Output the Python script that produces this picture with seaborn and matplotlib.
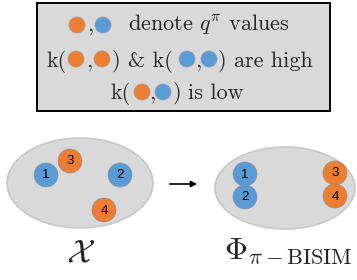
import numpy as np
import pandas as pd
import seaborn as sns
import matplotlib.pyplot as plt
from matplotlib.patches import Ellipse, Rectangle

sns.set_style("white")
plt.rcParams["mathtext.fontset"] = "cm"

# node data: label, kind (q-value group), position in left and right panel
node_labels = ["1", "2", "3", "4"]
node_kind = ["blue", "blue", "orange", "orange"]
left_x = [46, 120, 70, 104]
left_y = [175, 175, 161, 210]
right_x = [245, 245, 335, 335]
right_y = [174, 197, 173, 196]

# legend-box dots: x, y, kind
box_dot_x = [77, 103, 76, 102, 187, 209, 142, 163]
box_dot_y = [25, 25, 59, 59, 59, 59, 92, 92]
box_dot_kind = ["orange", "blue", "orange", "orange", "blue", "blue", "orange", "blue"]

palette = {"orange": "#ED7D31", "blue": "#5B9BD5"}

fig = plt.figure(figsize=(3.57, 2.8), dpi=100)
ax = fig.add_axes([0, 0, 1, 1])
ax.set_xlim(0, 357)
ax.set_ylim(280, 0)
ax.axis("off")

# box at the top
ax.add_patch(Rectangle((37, 3), 293, 108, facecolor="#d9d9d9", edgecolor="black", lw=1.4, zorder=0))

dots = pd.DataFrame({"x": box_dot_x, "y": box_dot_y, "kind": box_dot_kind})
sns.scatterplot(data=dots, x="x", y="y", hue="kind", palette=palette, s=135,
                edgecolor="#9a9aaa", linewidth=0.4, legend=False, ax=ax, zorder=3)

cm = dict(family="cmr10", fontsize=16, va="baseline", ha="left")
# line 1
ax.text(87, 31, ",", **cm)
ax.text(128, 31, r"denote $q^{\pi}$ values", **cm)
# line 2
ax.text(46, 67, "k(", **cm)
ax.text(86, 67, ",", **cm)
ax.text(112, 67, ")", **cm)
ax.text(128, 67, "& k(", **cm)
ax.text(195, 67, ",", **cm)
ax.text(218, 67, ")", **cm)
ax.text(234, 67, "are high", **cm)
# line 3
ax.text(110, 99, "k(", **cm)
ax.text(149, 99, ",", **cm)
ax.text(173, 99, ")", **cm)
ax.text(188, 99, "is low", **cm)

# ellipses
ax.add_patch(Ellipse((80, 183), 146, 90, facecolor="#d9d9d9", edgecolor="#c8c8c8", lw=1.2, zorder=0))
ax.add_patch(Ellipse((285, 188), 140, 82, facecolor="#d9d9d9", edgecolor="#c8c8c8", lw=1.2, zorder=0))

nodes = pd.DataFrame({
    "x": left_x + right_x,
    "y": left_y + right_y,
    "kind": node_kind * 2,
    "label": node_labels * 2,
})
sns.scatterplot(data=nodes, x="x", y="y", hue="kind", palette=palette, s=300,
                edgecolor="#8a8a9a", linewidth=0.4, legend=False, ax=ax, zorder=3)
for _, r in nodes.iterrows():
    ax.text(r.x, r.y + 0.5, r.label, ha="center", va="center", fontsize=9.5,
            family="Liberation Sans", color="black", zorder=4)

# arrow
ax.annotate("", xy=(200, 184), xytext=(167, 184),
            arrowprops=dict(arrowstyle="-|>", color="black", lw=1.2, mutation_scale=9))

# labels
ax.text(81, 253, r"$\mathcal{X}$", ha="center", va="center", fontsize=24)
ax.text(224, 251, r"$\Phi_{\pi-\mathrm{BISIM}}$", ha="left", va="center", fontsize=23)

ax.set_xlabel("")
ax.set_ylabel("")
fig.savefig("out.png", dpi=100)
